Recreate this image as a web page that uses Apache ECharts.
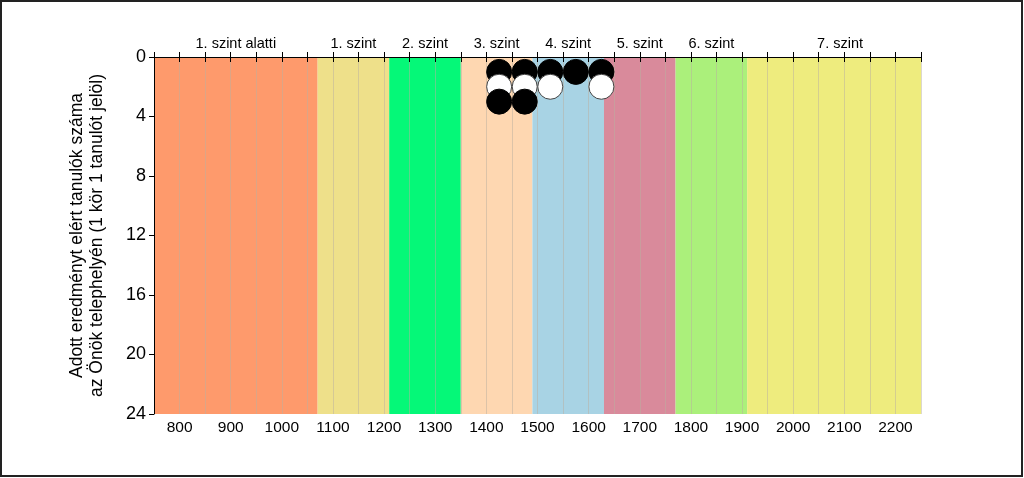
<!DOCTYPE html>
<html>
<head>
<meta charset="utf-8">
<script src="https://cdn.jsdelivr.net/npm/echarts@6/dist/echarts.min.js"></script>
<style>
  html, body { margin: 0; padding: 0; background: #fff; }
  #chart { width: 1024px; height: 478px; }
</style>
</head>
<body>
<div id="chart"></div>
<script>
  // szintek (sávok) és határaik
  const levelNames = ['1. szint alatti', '1. szint', '2. szint', '3. szint', '4. szint', '5. szint', '6. szint', '7. szint'];
  const levelEdges = [750, 1070, 1210, 1350, 1490, 1630, 1770, 1910, 2250];
  const levelColors = ['#FE9A6C', '#EEE08A', '#05F878', '#FED7B1', '#A8D3E4', '#D98A9B', '#ABF07B', '#EEEC7E'];

  // tanulók (1 kör = 1 tanuló)
  const dotScore = [1425, 1425, 1425, 1475, 1475, 1475, 1525, 1525, 1575, 1625, 1625];
  const dotCount = [1, 2, 3, 1, 2, 3, 1, 2, 1, 1, 2];
  const dotColor = ['#000', '#fff', '#000', '#000', '#fff', '#000', '#000', '#fff', '#000', '#000', '#fff'];

  const yTicks = [0, 4, 8, 12, 16, 20, 24];

  const font = 'Arial, "Liberation Sans", sans-serif';

  let areas = []
  for (let i = 0; i < levelNames.length; i++) {
    let start = { name: levelNames[i], xAxis: levelEdges[i], itemStyle: { color: levelColors[i] } }
    // az utolsó felirat kicsit jobbra áll
    if (i == levelNames.length - 1) start.label = { offset: [6, 0] }
    areas.push([start, { xAxis: levelEdges[i + 1] }])
  }

  let dots = dotScore.map((x, i) => ({
    value: [x, dotCount[i]],
    itemStyle: {
      color: dotColor[i],
      borderColor: dotColor[i] == '#fff' ? '#444' : '#000',
      borderWidth: 1,
      opacity: 1
    }
  }))

  const chart = echarts.init(document.getElementById('chart'));
  const option = {
    animation: false,
    grid: { left: 154, right: 103, top: 57, bottom: 64 },
    graphic: [{
      type: 'rect',
      shape: { x: 1, y: 1, width: 1021, height: 475 },
      style: { fill: 'none', stroke: '#222', lineWidth: 2 },
      z: 100
    }],
    xAxis: [
      {
        type: 'value', position: 'bottom', min: 750, max: 2250, interval: 50, z: 3,
        axisLine: { show: true, lineStyle: { color: '#000', width: 1 } },
        axisTick: { show: true, length: 5, lineStyle: { color: '#000' } },
        axisLabel: {
          color: '#000', fontSize: 15.5, fontFamily: font, margin: 6,
          formatter: v => (v % 100 == 0 ? String(v) : '')
        },
        splitLine: { show: true, lineStyle: { color: 'rgba(185,175,160,0.5)', width: 1 } }
      },
      {
        type: 'value', position: 'top', min: 750, max: 2250, interval: 50, z: 3,
        axisLine: { show: true, lineStyle: { color: '#000', width: 1 } },
        axisTick: { show: true, length: 5, lineStyle: { color: '#000' } },
        axisLabel: { show: false },
        splitLine: { show: false }
      }
    ],
    yAxis: {
      type: 'value', inverse: true, min: 0, max: 24, interval: 4, z: 3,
      name: 'Adott eredményt elért tanulók száma\naz Önök telephelyén (1 kör 1 tanulót jelöl)',
      nameLocation: 'middle', nameGap: 47, nameRotate: 90,
      nameTextStyle: { color: '#000', fontSize: 17.5, fontFamily: font, lineHeight: 20 },
      axisLine: { show: true, lineStyle: { color: '#000', width: 1 } },
      axisTick: { show: true, length: 5, lineStyle: { color: '#000' } },
      axisLabel: {
        color: '#000', fontSize: 18, fontFamily: font, margin: 8,
        formatter: v => (yTicks.includes(v) ? String(v) : '')
      },
      splitLine: { show: false }
    },
    series: [
      {
        type: 'scatter', data: [], z: 1, silent: true,
        markArea: {
          silent: true, z: 1,
          label: { show: true, position: 'top', distance: 6, color: '#000', fontSize: 14.5, fontFamily: font },
          data: areas
        }
      },
      {
        type: 'scatter', z: 5,
        symbol: 'circle', symbolSize: 25,
        data: dots
      }
    ]
  }
  chart.setOption(option)
</script>
</body>
</html>
